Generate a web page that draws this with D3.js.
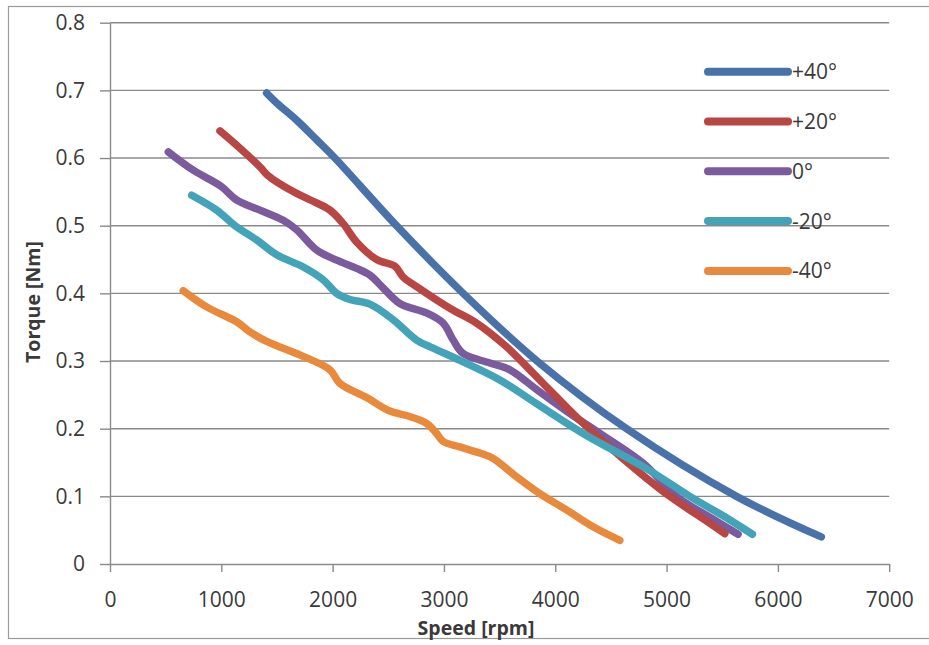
<!DOCTYPE html>
<html>
<head>
<meta charset="utf-8">
<script src="https://cdn.jsdelivr.net/npm/d3@7"></script>
<style>
  html, body { margin: 0; padding: 0; background: #fff; }
  svg { display: block; }
  text { font-family: "Open Sans", "Noto Sans", sans-serif; fill: #3a3a3a; }
</style>
</head>
<body>
<svg id="chart" width="929" height="645"></svg>
<script>
// Torque vs speed for five advance angles
const seriesNames = ["+40°", "+20°", "0°", "-20°", "-40°"];
const seriesColors = ["#4a72aa", "#b84643", "#7b5b9d", "#43a3b8", "#e8893b"];

// [speed rpm, torque Nm]
const plus40 = [[1407,0.696],[1500,0.681],[1676,0.656],[1856,0.627],[2020,0.600],[2574,0.500],[3173,0.400],[3837,0.300],[4640,0.200],[5628,0.100],[6390,0.040]];
const plus20 = [[988,0.640],[1150,0.617],[1347,0.587],[1420,0.574],[1616,0.553],[1800,0.538],[1976,0.523],[2095,0.503],[2215,0.476],[2395,0.450],[2560,0.440],[2634,0.424],[2754,0.410],[3053,0.378],[3293,0.356],[3562,0.321],[3801,0.282],[4011,0.247],[4250,0.208],[4650,0.150],[5029,0.100],[5300,0.070],[5523,0.045]];
const zero = [[524,0.609],[748,0.582],[1000,0.558],[1138,0.538],[1347,0.523],[1556,0.508],[1676,0.494],[1856,0.464],[2036,0.449],[2215,0.437],[2335,0.427],[2454,0.408],[2604,0.385],[2844,0.371],[2993,0.356],[3083,0.331],[3173,0.311],[3413,0.297],[3592,0.287],[3832,0.258],[4101,0.226],[4400,0.193],[4789,0.149],[5089,0.100],[5400,0.068],[5642,0.044]];
const minus20 = [[734,0.545],[958,0.523],[1123,0.500],[1317,0.479],[1497,0.457],[1736,0.439],[1916,0.420],[2036,0.400],[2155,0.391],[2335,0.384],[2544,0.361],[2754,0.331],[2903,0.319],[3143,0.301],[3502,0.272],[3832,0.237],[4250,0.193],[4820,0.141],[5208,0.100],[5500,0.072],[5771,0.044]];
const minus40 = [[658,0.404],[868,0.380],[1138,0.358],[1257,0.343],[1407,0.329],[1706,0.309],[1976,0.287],[2065,0.267],[2305,0.246],[2514,0.226],[2694,0.218],[2844,0.208],[2934,0.193],[2993,0.181],[3143,0.173],[3323,0.164],[3442,0.156],[3652,0.129],[3861,0.104],[4101,0.080],[4340,0.055],[4580,0.035]];

const xTicks = [0, 1000, 2000, 3000, 4000, 5000, 6000, 7000];
const yTicks = [0, 0.1, 0.2, 0.3, 0.4, 0.5, 0.6, 0.7, 0.8];
const yTickLabels = ["0", "0.1", "0.2", "0.3", "0.4", "0.5", "0.6", "0.7", "0.8"];

const allSeries = [plus40, plus20, zero, minus20, minus40];

const svg = d3.select("#chart");
const W = 929, H = 645;
const plot = { left: 110, right: 889.2, top: 22.7, bottom: 564 };
const axisColor = "#8a8a8a";

// outer frame
svg.append("rect")
  .attr("x", 8.5).attr("y", 6.5)
  .attr("width", W + 20).attr("height", 632)
  .attr("fill", "#fff").attr("stroke", "#9a9a9a").attr("stroke-width", 1.2);

const x = d3.scaleLinear().domain([0, 7000]).range([plot.left, plot.right]);
const y = d3.scaleLinear().domain([0, 0.8]).range([plot.bottom, plot.top]);

// horizontal gridlines
svg.append("g").selectAll("line")
  .data(yTicks.filter(d => d > 0))
  .join("line")
  .attr("x1", plot.left).attr("x2", plot.right)
  .attr("y1", d => y(d)).attr("y2", d => y(d))
  .attr("stroke", axisColor).attr("stroke-width", 1.4);

// y axis
const yAxis = svg.append("g")
  .attr("transform", `translate(${plot.left},0)`)
  .call(d3.axisLeft(y).tickValues(yTicks)
    .tickFormat((d, i) => yTickLabels[i])
    .tickSize(10).tickSizeOuter(0).tickPadding(15));
yAxis.select(".domain").attr("stroke", axisColor).attr("stroke-width", 1.4);
yAxis.selectAll(".tick line").attr("stroke", axisColor).attr("stroke-width", 1.4);
yAxis.selectAll(".tick text")
  .attr("font-size", 21).attr("font-family", "'Open Sans', sans-serif").attr("fill", "#3a3a3a");

// x axis
const xAxis = svg.append("g")
  .attr("transform", `translate(0,${plot.bottom})`)
  .call(d3.axisBottom(x).tickValues(xTicks).tickFormat(d3.format("d"))
    .tickSize(8).tickSizeOuter(0).tickPadding(20));
xAxis.select(".domain").attr("stroke", axisColor).attr("stroke-width", 1.4);
xAxis.selectAll(".tick line").attr("stroke", axisColor).attr("stroke-width", 1.4);
xAxis.selectAll(".tick text")
  .attr("font-size", 21).attr("font-family", "'Open Sans', sans-serif").attr("fill", "#3a3a3a")
  .attr("y", 42.7).attr("dy", 0);

// axis titles
svg.append("text")
  .attr("x", 476).attr("y", 635)
  .attr("text-anchor", "middle")
  .attr("font-size", 19.5).attr("font-weight", "bold")
  .text("Speed [rpm]");
svg.append("text")
  .attr("transform", "translate(40,302) rotate(-90)")
  .attr("text-anchor", "middle")
  .attr("font-size", 19.5).attr("font-weight", "bold")
  .text("Torque [Nm]");

// series lines
const line = d3.line()
  .x(d => x(d[0])).y(d => y(d[1]))
  .curve(d3.curveCatmullRom.alpha(0.5));

// draw lower series first so the upper ones sit on top where they cross
const drawOrder = [4, 2, 1, 3, 0];
svg.append("g").selectAll("path")
  .data(drawOrder)
  .join("path")
  .attr("d", i => line(allSeries[i]))
  .attr("fill", "none")
  .attr("stroke", i => seriesColors[i])
  .attr("stroke-width", 7.5)
  .attr("stroke-linecap", "round")
  .attr("stroke-linejoin", "round");

// legend
const legend = svg.append("g").attr("transform", "translate(708,71.7)");
const item = legend.selectAll("g")
  .data(seriesNames)
  .join("g")
  .attr("transform", (d, i) => `translate(0,${i * 49.8})`);
item.append("line")
  .attr("x1", 0).attr("x2", 80)
  .attr("stroke", (d, i) => seriesColors[i])
  .attr("stroke-width", 8)
  .attr("stroke-linecap", "round");
item.append("text")
  .attr("x", 84).attr("dy", "0.36em")
  .attr("font-size", 21)
  .text(d => d);
</script>
</body>
</html>
